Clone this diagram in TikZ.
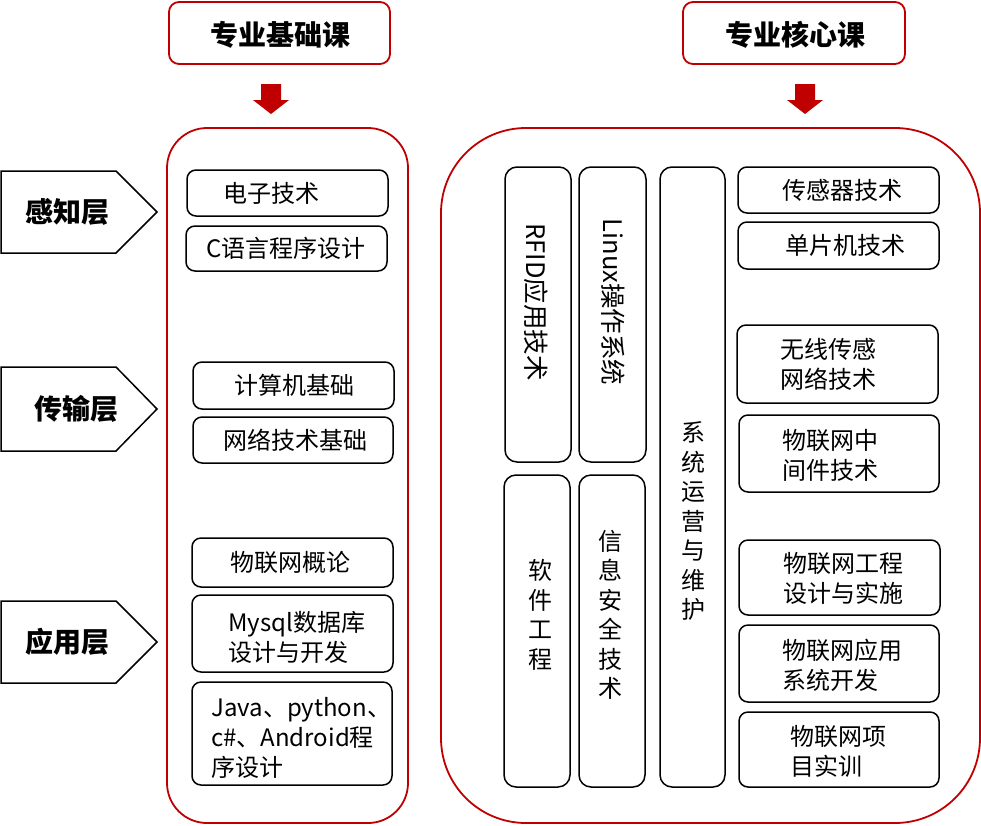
\documentclass[tikz,border=0pt]{standalone}
\usepackage{fontspec}
\setmainfont{Noto Sans CJK SC}
\definecolor{dred}{HTML}{C00000}
\newcommand\mybx[6][box]{\node[#1, minimum width={#5-#3}, minimum height={#6-#4}] (#2) at ({(#3+#5)/2},{(#4+#6)/2}) {};}
\newcommand\myarrow[2]{\fill[dred] (#2-10,84) -- (#2+10,84) -- (#2+10,100) -- (#2+18,100) -- (#2,114) -- (#2-18,100) -- (#2-10,100) -- cycle;}
\begin{document}
\begin{tikzpicture}[x=1pt,y=-1pt,
  box/.style={draw, line width=1.5pt, rounded corners=9pt, inner sep=0pt},
  vbox/.style={draw, line width=1.5pt, rounded corners=12pt, inner sep=0pt},
  redbox/.style={draw=dred, line width=1.8pt, rounded corners=10pt, inner sep=0pt},
  bigL/.style={draw=dred, line width=1.8pt, rounded corners=40pt, inner sep=0pt},
  bigR/.style={draw=dred, line width=1.8pt, rounded corners=85pt, inner sep=0pt},
  layer/.style={draw, line width=1.5pt, line join=miter},
  txt/.style={font=\fontsize{24}{30}\selectfont, inner sep=0pt, align=left},
  rtxt/.style={font=\fontsize{25.5}{30}\selectfont, inner sep=0pt},
  vtxt/.style={font=\fontsize{24}{29.5}\selectfont, inner sep=0pt, align=center},
  hd/.style={font=\fontsize{28}{34}\selectfont\bfseries, inner sep=0pt}]
\useasboundingbox (0,0) rectangle (981,825);

% headers
\mybx[redbox]{topA}{169}{2}{390}{64}
\mybx[redbox]{topB}{683}{2}{905}{64}
\node[hd] (topAt) at (280,35) {专业基础课};
\node[hd] (topBt) at (795,35) {专业核心课};
\myarrow{arrA}{271}
\myarrow{arrB}{805}

% big containers
\mybx[bigL]{bigL}{167}{128}{408}{823}
\mybx[bigR]{bigR}{441}{128}{980}{823}

% layers
\draw[layer] (1,171) -- (116,171) -- (157,212) -- (116,253) -- (1,253) -- cycle;
\node[hd] (l1) at (67,212) {感知层};
\draw[layer] (1,367) -- (116,367) -- (157,409) -- (116,451) -- (1,451) -- cycle;
\node[hd] (l2) at (76,409) {传输层};
\draw[layer] (1,601) -- (116,601) -- (157,642) -- (116,683) -- (1,683) -- cycle;
\node[hd] (l3) at (67,642) {应用层};

% left column
\mybx{b1}{187}{170}{388}{216}
\node[txt] (t1) at (271,193) {电子技术};
\mybx{b2}{186}{226}{387}{271}
\node[txt] (t2) at (286,248.5) {C语言程序设计};
\mybx{b3}{193}{362}{394}{409}
\node[txt] (t3) at (294,385.5) {计算机基础};
\mybx{b4}{193}{417}{393}{463}
\node[txt] (t4) at (295,440) {网络技术基础};
\mybx{b5}{192}{538}{393}{587}
\node[txt] (t5) at (290,562) {物联网概论};
\mybx{b6}{192}{595}{393}{672}
\node[txt, anchor=west] (t6) at (228,637) {Mysql数据库\\设计与开发};
\mybx{b7}{192}{682}{392}{785}
\node[txt, anchor=west] (t7) at (211,737.5) {Java、python、\\c\#、Android程\\序设计};

% vertical boxes
\mybx[vbox]{v1}{505}{167}{571}{462}
\node[rtxt, rotate=-90] (vt1) at (536,302) {RFID应用技术};
\mybx[vbox]{v2}{579}{167}{646}{462}
\node[rtxt, rotate=-90] (vt2) at (613,302) {Linux操作系统};
\mybx[vbox]{v3}{660}{167}{725}{787}
\node[vtxt] (vt3) at (693,521) {系\\统\\运\\营\\与\\维\\护};
\mybx[vbox]{v4}{504}{475}{570}{787}
\node[vtxt] (vt4) at (540,615) {软\\件\\工\\程};
\mybx[vbox]{v5}{579}{475}{645}{787}
\node[vtxt] (vt5) at (610,615) {信\\息\\安\\全\\技\\术};

% right column
\mybx{r1}{738}{167}{939}{213}
\node[txt] (rt1) at (842,190) {传感器技术};
\mybx{r2}{738}{222}{939}{269}
\node[txt] (rt2) at (845,245) {单片机技术};
\mybx{r3}{737}{325}{938}{403}
\node[txt, anchor=west] (rt3) at (780,364.5) {无线传感\\网络技术};
\mybx{r4}{739}{415}{939}{492}
\node[txt, anchor=west] (rt4) at (782,455.5) {物联网中\\间件技术};
\mybx{r5}{739}{540}{940}{615}
\node[txt, anchor=west] (rt5) at (783,578) {物联网工程\\设计与实施};
\mybx{r6}{739}{625}{939}{702}
\node[txt, anchor=west] (rt6) at (782,665) {物联网应用\\系统开发};
\mybx{r7}{739}{712}{939}{787}
\node[txt, anchor=west] (rt7) at (790,751) {物联网项\\目实训};
\end{tikzpicture}
\end{document}
